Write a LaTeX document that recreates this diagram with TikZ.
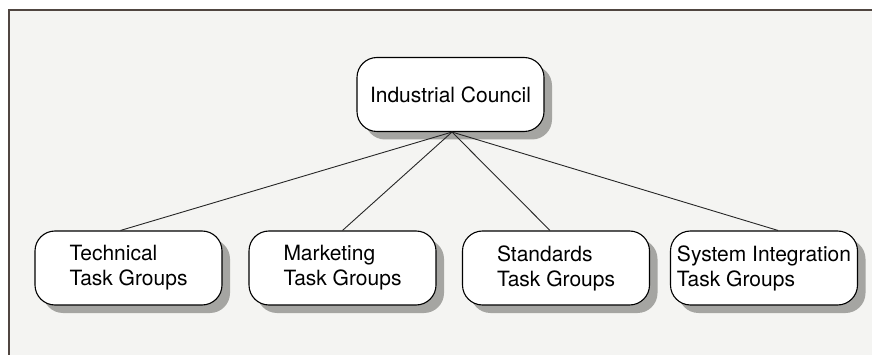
\documentclass[tikz,border=0pt]{standalone}
\usepackage{fontspec}
\setmainfont{TeX Gyre Heros}
\usetikzlibrary{shadows}
\definecolor{paper}{RGB}{244,244,242}
\definecolor{framecol}{RGB}{80,70,65}
\definecolor{shadowcol}{RGB}{165,165,162}
\tikzset{
  box/.style={draw=black, line width=1.1pt, fill=white, rounded corners=20pt,
    minimum width=187pt, minimum height=74pt, inner sep=2pt, align=left,
    font=\fontsize{21}{25}\selectfont,
    drop shadow={shadow xshift=8pt, shadow yshift=-8pt, fill=shadowcol, opacity=1}},
  link/.style={draw=black!85, line width=0.9pt}
}
\begin{document}
\begin{tikzpicture}[x=1pt,y=-1pt]
\useasboundingbox (0,0) rectangle (872,355);
\clip (0,0) rectangle (872,355);
\fill[white] (0,0) rectangle (872,355);
\draw[framecol, line width=1.2pt, fill=paper] (9,10) rectangle (890,375);
\node[box] (ic) at (450.5,94.5) {Industrial Council};
\node[box] (tech) at (128.5,268) {Technical\\Task Groups};
\node[box] (mkt) at (342.5,268) {Marketing\\Task Groups};
\node[box] (std) at (556,268) {Standards\\Task Groups};
\node[box, inner sep=1pt] (sys) at (764,268) {System Integration\\Task Groups};
\coordinate (hub) at ([xshift=1.5pt]ic.south);
\draw[link] (hub) -- ([xshift=-8pt]tech.north);
\draw[link] (hub) -- (mkt.north);
\draw[link] (hub) -- ([xshift=-6pt]std.north);
\draw[link] (hub) -- ([xshift=14pt]sys.north);
\end{tikzpicture}
\end{document}
